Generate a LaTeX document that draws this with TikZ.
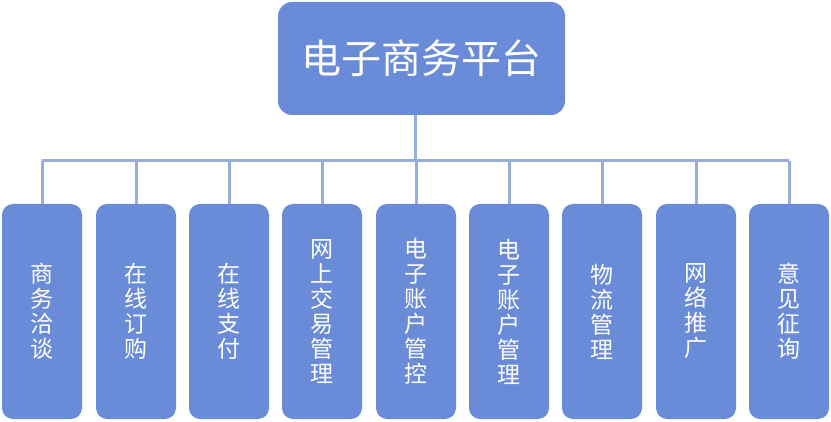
\documentclass[tikz,border=0pt]{standalone}
\usepackage{fontspec}
\setmainfont{Noto Sans CJK SC}
\definecolor{boxblue}{HTML}{6A8BD8}
\definecolor{lineblue}{HTML}{97AEDB}
\tikzset{
  topbox/.style={draw=none, fill=boxblue, rounded corners=14pt, minimum width=287pt, minimum height=113pt, inner sep=0pt, text=white, font=\fontsize{40}{42}\selectfont},
  subbox/.style={draw=none, fill=boxblue, rounded corners=11pt, minimum width=80pt, minimum height=215pt, inner sep=0pt, text=white, align=center, font=\fontsize{23}{25}\selectfont},
  conn/.style={draw=lineblue, line width=3pt}
}
\begin{document}
\begin{tikzpicture}[x=1pt,y=1pt]
\useasboundingbox (0,0) rectangle (831,421);
\node[topbox] (top) at (421.5,362.5) {电子商务平台};
\node[subbox] (b1) at (42,109.5) {商\\务\\洽\\谈};
\node[subbox] (b2) at (136,109.5) {在\\线\\订\\购};
\node[subbox] (b3) at (229,109.5) {在\\线\\支\\付};
\node[subbox] (b4) at (322,109.5) {网\\上\\交\\易\\管\\理};
\node[subbox] (b5) at (416,109.5) {电\\子\\账\\户\\管\\控};
\node[subbox] (b6) at (509,109.5) {电\\子\\账\\户\\管\\理};
\node[subbox] (b7) at (602,109.5) {物\\流\\管\\理};
\node[subbox] (b8) at (696,109.5) {网\\络\\推\\广};
\node[subbox] (b9) at (789,109.5) {意\\见\\征\\询};
\coordinate (bus) at (415.5,260);
\draw[conn] (top.south -| bus) -- (bus);
\draw[conn] (bus -| b1.north) -- (bus -| b9.north);
\foreach \i in {1,...,9} {
  \draw[conn] (bus -| b\i.north) -- (b\i.north);
}
\end{tikzpicture}
\end{document}
